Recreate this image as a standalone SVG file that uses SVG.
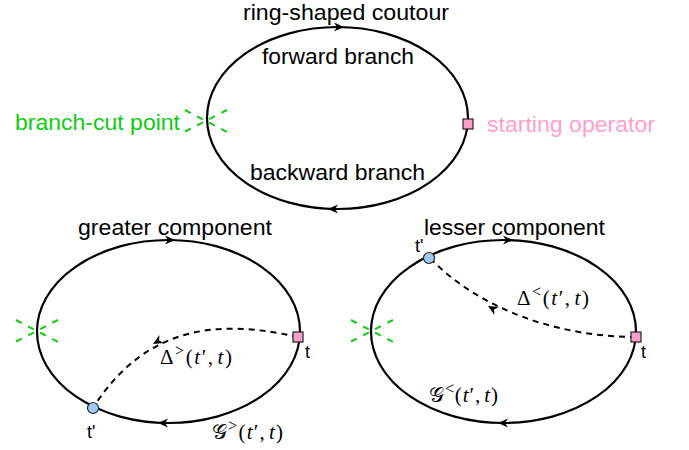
<svg xmlns="http://www.w3.org/2000/svg" xmlns:xlink="http://www.w3.org/1999/xlink" width="689" height="450" viewBox="0 0 689 450">
<defs>
<style>
.ring{fill:none;stroke:#000;stroke-width:2.2}
.dash{fill:none;stroke:#000;stroke-width:2;stroke-dasharray:6 5}
.cut{fill:none;stroke:#11cc11;stroke-width:2;stroke-dasharray:6.5 7.1}
.lbl{font-family:"Liberation Sans",Arial,sans-serif;font-size:22px;fill:#000}
.tl{font-family:"Liberation Sans",Arial,sans-serif;font-size:18px;fill:#000}
.math{font-family:"Liberation Serif","DejaVu Serif",serif;font-size:21px;fill:#000}
.sup{font-size:16px}
.it{font-style:italic}
.sq{fill:#f7a1c8;stroke:#222;stroke-width:1.2}
.cir{fill:#9fcaf2;stroke:#222;stroke-width:1.2}
</style>
<path id="ah" d="M0,0 L-10,-4.5 L-7,0 L-10,4.5 Z" fill="#000"/>
<g id="cutx">
<path class="cut" d="M-21,-11 L21,11 M-21,10.5 L21,-11"/>
</g>
</defs>

<g id="top-contour">
<ellipse class="ring" cx="337.5" cy="118" rx="130.5" ry="91"/>
<use xlink:href="#ah" transform="translate(344,27)"/>
<use xlink:href="#ah" transform="translate(328,209) rotate(180)"/>
<text class="lbl" x="243" y="20" textLength="206" lengthAdjust="spacingAndGlyphs">ring-shaped coutour</text>
<text class="lbl" x="262" y="64" textLength="152" lengthAdjust="spacingAndGlyphs">forward branch</text>
<text class="lbl" x="250" y="180" textLength="175" lengthAdjust="spacingAndGlyphs">backward branch</text>
</g>
<g id="top-cut">
<use xlink:href="#cutx" transform="translate(206,121)"/>
<text class="lbl" x="15" y="130" textLength="165" lengthAdjust="spacingAndGlyphs" style="fill:#11cc11">branch-cut point</text>
</g>
<g id="top-start">
<rect class="sq" x="463" y="119" width="10" height="10"/>
<text class="lbl" x="487" y="132" textLength="168" lengthAdjust="spacingAndGlyphs" style="fill:#ffa0cf">starting operator</text>
</g>

<g id="greater">
<ellipse class="ring" cx="168.5" cy="331.5" rx="131.5" ry="91.5"/>
<use xlink:href="#ah" transform="translate(175,240)"/>
<use xlink:href="#ah" transform="translate(158,423) rotate(180)"/>
<use xlink:href="#cutx" transform="translate(37,331)"/>
<text class="lbl" x="78" y="235" textLength="194" lengthAdjust="spacingAndGlyphs">greater component</text>
</g>
<g id="greater-connectors">
<path class="dash" d="M298,337 C230,322 150,318 93,408"/>
<use xlink:href="#ah" transform="translate(153,344) rotate(150)"/>
</g>
<g id="greater-t">
<rect class="sq" x="293" y="332" width="10" height="10"/>
<text class="tl" x="305" y="358">t</text>
</g>
<g id="greater-tp">
<circle class="cir" cx="93" cy="408" r="5.5"/>
<text class="tl" x="87" y="438">t'</text>
</g>
<text class="math" x="160" y="364" textLength="72">Δ<tspan class="sup" dy="-8">&gt;</tspan><tspan dy="8">(</tspan><tspan class="it">t</tspan>′,<tspan class="it" dx="3">t</tspan>)</text>
<text class="math" x="212" y="439" textLength="71">𝒢<tspan class="sup" dy="-8">&gt;</tspan><tspan dy="8">(</tspan><tspan class="it">t</tspan>′,<tspan class="it" dx="3">t</tspan>)</text>

<g id="lesser">
<ellipse class="ring" cx="503.5" cy="331.5" rx="132.5" ry="91.5"/>
<use xlink:href="#ah" transform="translate(513,240)"/>
<use xlink:href="#ah" transform="translate(498,423) rotate(180)"/>
<use xlink:href="#cutx" transform="translate(372,331)"/>
<text class="lbl" x="424" y="235" textLength="181" lengthAdjust="spacingAndGlyphs">lesser component</text>
</g>
<g id="lesser-connectors">
<path class="dash" d="M636,337 C560,337 480,310 430,258"/>
<use xlink:href="#ah" transform="translate(488,306) rotate(-150)"/>
</g>
<g id="lesser-t">
<rect class="sq" x="631" y="332" width="10" height="10"/>
<text class="tl" x="641" y="358">t</text>
</g>
<g id="lesser-tp">
<circle class="cir" cx="429" cy="258" r="5.5"/>
<text class="tl" x="415" y="252">t'</text>
</g>
<text class="math" x="517" y="305" textLength="72">Δ<tspan class="sup" dy="-8">&lt;</tspan><tspan dy="8">(</tspan><tspan class="it">t</tspan>′,<tspan class="it" dx="3">t</tspan>)</text>
<text class="math" x="429" y="402" textLength="69">𝒢<tspan class="sup" dy="-8">&lt;</tspan><tspan dy="8">(</tspan><tspan class="it">t</tspan>′,<tspan class="it" dx="3">t</tspan>)</text>
</svg>
